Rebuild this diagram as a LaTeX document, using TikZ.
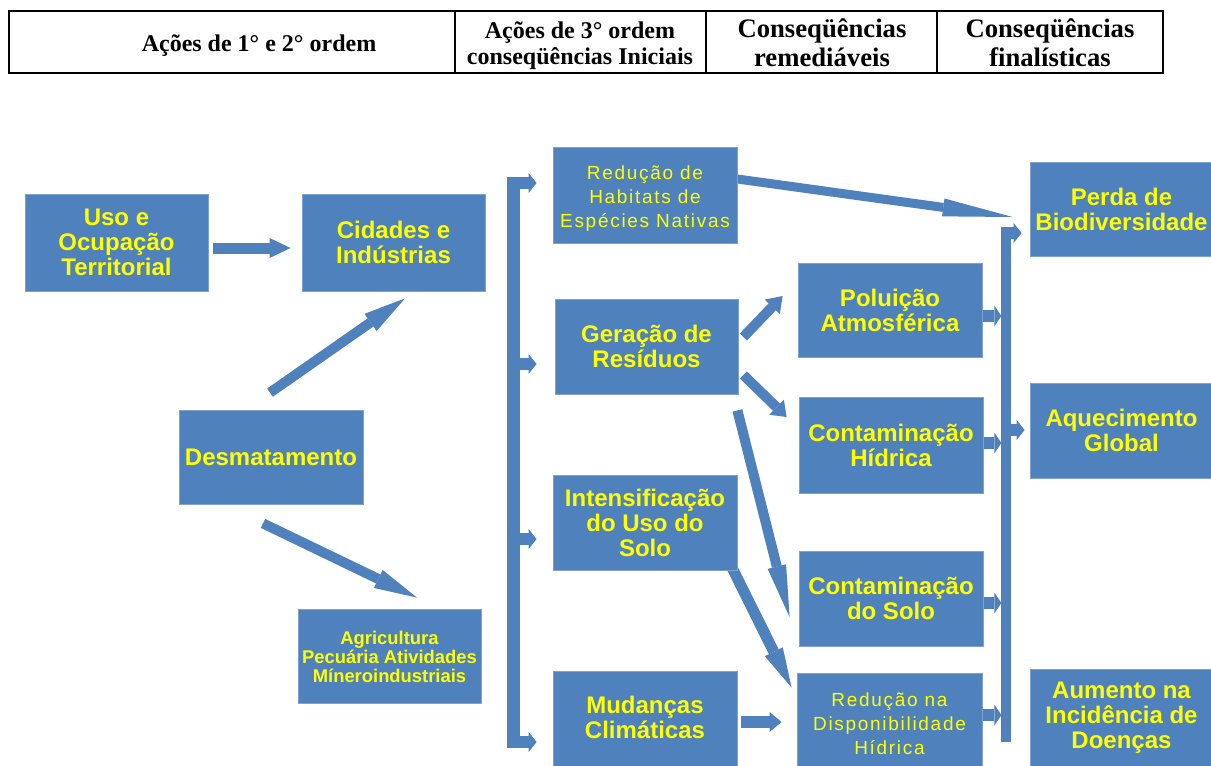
\documentclass[tikz,border=0pt]{standalone}
\usepackage{fontspec}
\setmainfont{Liberation Serif}
\newfontfamily\arial{Liberation Sans}
\newfontfamily\arialsp[LetterSpace=9]{Liberation Sans}
\usetikzlibrary{arrows.meta,calc,fit,backgrounds}
\definecolor{boxblue}{HTML}{4F81BD}
\definecolor{boxedge}{HTML}{7FA2D3}
\definecolor{txtyellow}{HTML}{FFFF00}
\tikzset{
  box/.style={fill=boxblue, draw=boxedge, line width=0.6pt, inner sep=0pt},
  boxtext/.style={inner sep=0pt, text=txtyellow, align=center,
    font=\arial\bfseries\fontsize{18}{18.75}\selectfont},
  lighttext/.style={boxtext, yshift=-3pt, font=\arialsp\fontsize{14.25}{18}\selectfont},
  smalltext/.style={boxtext, yshift=-0.75pt, font=\arial\bfseries\fontsize{13.8}{14.25}\selectfont},
  conn/.style n args={3}{draw=boxblue, line width=#1,
    -{Triangle[length=#2, width=#3, line width=0pt]}},
  arm/.style={conn={9pt}{6pt}{15pt}},
  hdr/.style={font=\bfseries\fontsize{18}{19.5}\selectfont, align=center, inner sep=0pt},
  hdrbig/.style={font=\bfseries\fontsize{20}{21.75}\selectfont, align=center, inner sep=0pt},
}
\begin{document}
\begin{tikzpicture}[x=0.75pt,y=-0.75pt]
\useasboundingbox (0,0) rectangle (1211,765);

% header table
\draw[line width=1.5pt] (9,11) rectangle (1163,73);
\draw[line width=1pt] (455,11) -- (455,73) (706,11) -- (706,73) (937,11) -- (937,73);
\node[hdr] (h1) at (259,45.5) {Ações de 1° e 2° ordem};
\node[hdr] (h2) at (580,46) {Ações de 3° ordem\\conseqüências Iniciais};
\node[hdrbig] (h3) at (822,43) {Conseqüências\\remediáveis};
\node[hdrbig] (h4) at (1050,43) {Conseqüências\\finalísticas};

% boxes
\node[box, fit={(25,194)(208,291)}] (uso) {};
\node[box, fit={(302,194)(485,291)}] (cid) {};
\node[box, fit={(179,410)(363,504)}] (des) {};
\node[box, fit={(298,609)(481,703)}] (agr) {};
\node[box, fit={(553,147)(737,243)}] (red) {};
\node[box, fit={(555,299)(738,394)}] (ger) {};
\node[box, fit={(553,475)(737,570)}] (int) {};
\node[box, fit={(553,671)(737,766)}] (mud) {};
\node[box, fit={(798,263)(982,357)}] (pol) {};
\node[box, fit={(799,397)(983,493)}] (hid) {};
\node[box, fit={(799,551)(983,646)}] (sol) {};
\node[box, fit={(797,673)(982,766)}] (rdi) {};
\node[box, fit={(1030,162)(1213,256)}] (per) {};
\node[box, fit={(1030,383)(1213,478)}] (aqu) {};
\node[box, fit={(1030,669)(1213,766)}] (aum) {};

% box texts
\node[boxtext] (usoT) at (uso.center) {Uso e\\Ocupação\\Territorial};
\node[boxtext] (cidT) at (cid.center) {Cidades e\\Indústrias};
\node[boxtext] (desT) at (des.center) {Desmatamento};
\node[smalltext] (agrT) at (agr.center) {Agricultura\\Pecuária Atividades\\Míneroindustriais};
\node[lighttext] (redT) at (red.center) {Redução de\\Habitats de\\Espécies Nativas};
\node[boxtext] (gerT) at (ger.center) {Geração de\\Resíduos};
\node[boxtext] (intT) at (int.center) {Intensificação\\do Uso do\\Solo};
\node[boxtext] (mudT) at ($(mud.center)+(0,-1)$) {Mudanças\\Climáticas};
\node[boxtext] (polT) at (pol.center) {Poluição\\Atmosférica};
\node[boxtext] (hidT) at (hid.center) {Contaminação\\Hídrica};
\node[boxtext] (solT) at (sol.center) {Contaminação\\do Solo};
\node[lighttext] (rdiT) at (rdi.center) {Redução na\\Disponibilidade\\Hídrica};
\node[boxtext] (perT) at (per.center) {Perda de\\Biodiversidade};
\node[boxtext] (aquT) at (aqu.center) {Aquecimento\\Global};
\node[boxtext] (aumT) at (aum.center) {Aumento na\\Incidência de\\Doenças};

% bracket coordinates
\coordinate (lbt) at (513,177);
\coordinate (lbb) at (513,748);
\coordinate (rbt) at (1006,227);
\coordinate (rbb) at (1006,742);
\coordinate (tr) at ($(red.west)+(-16,-12)$);
\coordinate (tg) at ($(ger.west)+(-18,17.5)$);
\coordinate (ti) at ($(int.west)+(-16,16.5)$);
\coordinate (tm) at ($(mud.west)+(-16,23.5)$);
\coordinate (tp) at ($(per.west)+(-8,24)$);
\coordinate (ta) at ($(aqu.west)+(-5,-0.5)$);

\begin{scope}[on background layer]
\fill[white] (0,0) rectangle (1211,765);
% left column arrows
\draw[conn={8.25pt}{15.75pt}{15pt}] ($(uso.east)+(5,5.5)$) -- ($(cid.west)+(-11,5.5)$);
\draw[conn={7.5pt}{31.5pt}{15.75pt}] ($(des.north)+(-1,-17)$) -- ($(cid.south)+(11.5,7)$);
\draw[conn={7.5pt}{32.25pt}{15pt}] ($(des.south)+(-8,19)$) -- ($(agr.north)+(27.5,-11)$);
% left bracket
\draw[draw=boxblue, line width=9.75pt] (lbt) -- (lbb);
\draw[arm] ($(lbt |- tr)+(-6.5,0)$) -- (tr);
\draw[arm] ($(lbt |- tg)+(-6.5,0)$) -- (tg);
\draw[arm] ($(lbt |- ti)+(-6.5,0)$) -- (ti);
\draw[arm] ($(lbt |- tm)+(-6.5,0)$) -- (tm);
% middle arrows
\draw[conn={6.75pt}{52.5pt}{13.5pt}] ($(red.east)+(0,-16)$) -- ($(per.west)+(-17,8)$);
\draw[conn={7.5pt}{11.25pt}{15.75pt}] ($(ger.east)+(5,-9.5)$) -- ($(pol.west)+(-15,-14)$);
\draw[conn={7.5pt}{10.5pt}{15.75pt}] ($(ger.east)+(5,28.5)$) -- ($(hid.west)+(-12,-28)$);
\draw[conn={7.5pt}{39pt}{14.25pt}] ($(ger.south east)+(-1,16)$) -- ($(sol.west)+(-9,18.5)$);
\draw[conn={8.25pt}{30pt}{15pt}] ($(int.south east)+(-6,-4)$) -- ($(rdi.north west)+(-5,15)$);
\draw[conn={9pt}{9pt}{15pt}] ($(mud.east)+(4,3.5)$) -- ($(rdi.west)+(-15,2.5)$);
% into right bar
\draw[conn={9pt}{5.25pt}{15.75pt}] ($(pol.east)+(0,6)$) -- ($(pol.east)+(19,6)$);
\draw[conn={9pt}{5.25pt}{15.75pt}] ($(hid.east)+(0,-2)$) -- ($(hid.east)+(18,-2)$);
\draw[conn={9pt}{5.25pt}{15.75pt}] ($(sol.east)+(0,4.5)$) -- ($(sol.east)+(18,4.5)$);
\draw[conn={9pt}{5.25pt}{15.75pt}] ($(rdi.east)+(0,-4.5)$) -- ($(rdi.east)+(19,-4.5)$);
% right bracket
\draw[draw=boxblue, line width=7.5pt] (rbt) -- (rbb);
\draw[arm] ($(rbt |- tp)+(-5,0)$) -- (tp);
\draw[arm] ($(rbt |- ta)+(-5,0)$) -- (ta);
\end{scope}
\end{tikzpicture}
\end{document}
